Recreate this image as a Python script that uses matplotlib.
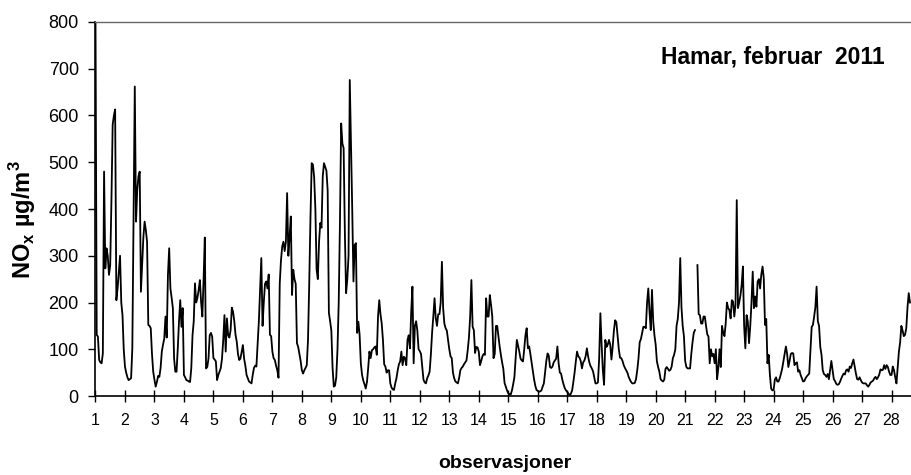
import numpy as np
import matplotlib
matplotlib.use("Agg")
from matplotlib import pyplot as plt

nan = np.nan

# hourly NOx at Hamar, February 2011 (µg/m3), one row per day
week1 = [
    820, 131, 127, 77, 72, 70, 91, 480, 273, 316, 300, 259, 280, 420, 580, 600, 613, 205, 230, 266, 300, 200, 173, 100,
    63, 50, 40, 34, 36, 38, 102, 380, 662, 373, 440, 470, 480, 223, 280, 340, 373, 355, 330, 152, 150, 145, 90, 52,
    35, 20, 30, 43, 41, 60, 95, 110, 123, 170, 125, 260, 316, 230, 210, 188, 80, 52, 52, 102, 160, 205, 148, 188,
    45, 40, 34, 33, 31, 30, 60, 130, 160, 241, 200, 210, 227, 248, 200, 170, 250, 339, 59, 62, 80, 130, 135, 127,
    81, 78, 74, 34, 45, 52, 60, 80, 120, 173, 95, 166, 130, 125, 141, 189, 180, 160, 131, 116, 90, 77, 80, 95,
    109, 80, 65, 45, 38, 31, 29, 27, 45, 60, 65, 63, 110, 160, 230, 295, 150, 200, 240, 245, 230, 260, 131, 128,
    95, 81, 77, 65, 55, 39, 241, 290, 320, 330, 310, 330, 434, 300, 340, 384, 216, 270, 250, 240, 113, 105, 90, 75,
]
week2 = [
    55, 48, 55, 60, 66, 120, 240, 380, 498, 495, 468, 400, 270, 250, 330, 370, 360, 470, 498, 490, 482, 440, 178, 160,
    140, 60, 20, 22, 40, 100, 200, 370, 583, 540, 530, 350, 220, 250, 300, 676, 540, 400, 245, 323, 327, 135, 159, 131,
    70, 45, 33, 25, 16, 30, 60, 95, 81, 98, 100, 104, 106, 88, 170, 205, 175, 155, 120, 68, 63, 50, 55, 55,
    27, 18, 14, 13, 27, 38, 55, 68, 74, 95, 66, 84, 81, 66, 120, 130, 102, 180, 234, 70, 150, 160, 140, 100,
    96, 90, 62, 35, 29, 27, 38, 44, 52, 88, 135, 170, 209, 166, 150, 175, 175, 200, 287, 188, 155, 145, 140, 120,
    100, 85, 81, 50, 38, 31, 29, 27, 38, 55, 60, 63, 68, 72, 76, 98, 125, 170, 248, 148, 141, 92, 105, 104,
    95, 66, 75, 85, 90, 88, 209, 170, 170, 216, 195, 170, 81, 90, 150, 150, 128, 106, 88, 72, 58, 28, 20, 12,
]
week3 = [
    6, 4, 3, 12, 25, 40, 80, 120, 108, 95, 80, 76, 74, 100, 130, 145, 102, 106, 90, 72, 55, 36, 22, 13,
    11, 9, 10, 12, 20, 27, 52, 75, 91, 86, 62, 60, 63, 72, 76, 80, 106, 70, 50, 48, 35, 25, 17, 12,
    9, 5, 2, 5, 12, 30, 50, 74, 95, 85, 82, 75, 59, 72, 76, 85, 102, 85, 72, 64, 59, 53, 40, 27,
    27, 29, 80, 177, 110, 55, 24, 120, 105, 110, 120, 110, 78, 105, 140, 162, 158, 130, 100, 82, 81, 75, 66, 60,
    55, 50, 41, 35, 30, 27, 27, 28, 36, 55, 80, 115, 122, 135, 148, 148, 145, 200, 230, 180, 141, 227, 160, 130,
    110, 74, 62, 52, 36, 33, 31, 35, 58, 62, 58, 54, 56, 63, 81, 88, 100, 150, 165, 200, 295, 190, 150, 128,
    75, 62, 59, 59, 59, 90, 115, 135, 141, nan, 280, 175, 173, 155, 155, 170, 170, 150, 132, 127, 70, 100, 85, 90,
]
week4 = [
    70, 100, 36, 60, 100, 62, 150, 135, 128, 155, 200, 188, 184, 166, 205, 202, 170, 195, 419, 188, 200, 215, 238, 277,
    150, 102, 173, 160, 113, 150, 200, 266, 188, 213, 191, 245, 250, 230, 260, 277, 252, 152, 165, 70, 88, 45, 16, 12,
    13, 35, 40, 31, 31, 38, 48, 59, 75, 90, 106, 90, 62, 75, 90, 92, 91, 66, 70, 72, 52, 55, 45, 38,
    31, 32, 38, 42, 45, 48, 100, 148, 152, 170, 190, 234, 160, 150, 105, 88, 55, 47, 45, 41, 47, 36, 55, 75,
    55, 36, 32, 26, 24, 25, 30, 37, 43, 48, 46, 55, 57, 52, 63, 60, 70, 78, 63, 48, 36, 35, 40, 34,
    29, 27, 27, 27, 23, 20, 24, 29, 31, 33, 38, 41, 36, 40, 46, 57, 55, 56, 66, 58, 66, 62, 52, 45,
    45, 63, 55, 40, 27, 60, 95, 115, 150, 140, 128, 131, 145, 190, 220, 200,
]

days = list(range(1, 29))
y_ticks = list(range(0, 801, 100))

plt.rcParams["font.family"] = ["Liberation Sans", "DejaVu Sans"]
plt.rcParams["mathtext.fontset"] = "custom"
plt.rcParams["mathtext.rm"] = "Liberation Sans:bold"
plt.rcParams["mathtext.bf"] = "Liberation Sans:bold"

nox = np.array(week1 + week2 + week3 + week4, dtype=float)
hours = 1 + np.arange(len(nox)) / 24.0

fig = plt.figure(figsize=(9.11, 4.75), dpi=100)
ax = fig.add_axes([0.1048, 0.1663, 0.8952, 0.7874])

ax.plot(hours, nox, color="black", linewidth=1.3)

ax.set_xlim(1, 28.66)
ax.set_ylim(0, 800)
ax.set_xticks(days)
ax.set_xticklabels([str(d) for d in days])
ax.set_yticks(y_ticks)

ax.tick_params(axis="x", direction="inout", length=8, width=1, pad=8, labelsize=11.5)
ax.tick_params(axis="y", direction="out", length=5, width=1, pad=7, labelsize=13)

for side in ("left", "bottom"):
    ax.spines[side].set_color("black")
    ax.spines[side].set_linewidth(1.2)
ax.spines["top"].set_color("#666666")
ax.spines["top"].set_linewidth(1.0)
ax.spines["right"].set_visible(False)

ax.text(0.968, 0.906, "Hamar, februar  2011", transform=ax.transAxes,
        ha="right", va="center", fontsize=16.5, fontweight="bold")

fig.text(505 / 911, 1 - 463 / 475, "observasjoner", ha="center", va="center",
         fontsize=14, fontweight="bold")
fig.text(23 / 911, 1 - 220 / 475, r"NO$_\mathbf{x}$ µg/m$^\mathbf{3}$", rotation=90,
         ha="center", va="center", fontsize=17, fontweight="bold")

fig.savefig("out.png", dpi=100)
